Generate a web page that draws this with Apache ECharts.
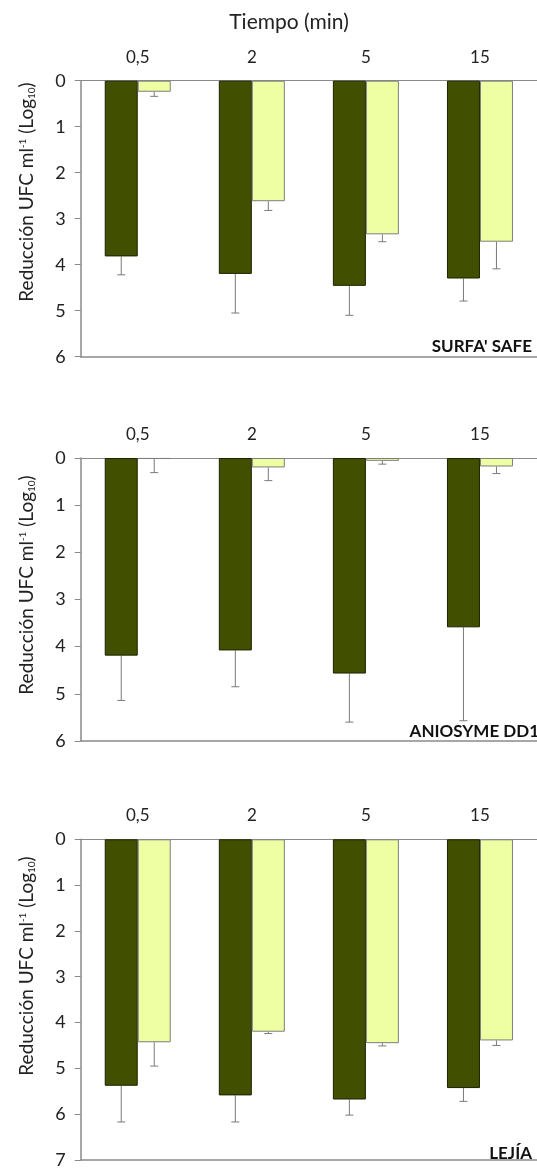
<!DOCTYPE html>
<html>
<head>
<meta charset="utf-8">
<script src="https://cdn.jsdelivr.net/npm/echarts@6/dist/echarts.min.js"></script>
<style>
  html, body { margin: 0; padding: 0; background: #fff; }
  #chart { width: 537px; height: 1169px; }
</style>
</head>
<body>
<div id="chart"></div>
<script>
// categorías de tiempo (min)
const categories = ['0,5', '2', '5', '15']

// SURFA' SAFE
const surfaDark = [3.82, 4.20, 4.46, 4.30]
const surfaDarkSd = [0.40, 0.85, 0.64, 0.49]
const surfaLight = [0.24, 2.62, 3.34, 3.50]
const surfaLightSd = [0.10, 0.20, 0.16, 0.59]

// ANIOSYME DD1
const anioDark = [4.19, 4.08, 4.57, 3.59]
const anioDarkSd = [0.95, 0.77, 1.03, 1.98]
const anioLight = [0.02, 0.20, 0.06, 0.18]
const anioLightSd = [0.29, 0.28, 0.07, 0.15]

// LEJÍA
const lejiaDark = [5.38, 5.59, 5.68, 5.43]
const lejiaDarkSd = [0.79, 0.58, 0.34, 0.29]
const lejiaLight = [4.43, 4.20, 4.45, 4.39]
const lejiaLightSd = [0.52, 0.04, 0.06, 0.11]

const panelNames = ["SURFA' SAFE", 'ANIOSYME DD1', 'LEJÍA']
const yMax = [6, 6, 7]

const FONT = 'Lato'
const AXIS_COLOR = '#8a8a8a'
const DARK = '#405000'
const LIGHT = '#eeffa3'
const BAR_W = 33

const panels = [
  { dark: surfaDark, darkSd: surfaDarkSd, light: surfaLight, lightSd: surfaLightSd, top: 80.7, height: 276 },
  { dark: anioDark, darkSd: anioDarkSd, light: anioLight, lightSd: anioLightSd, top: 458, height: 283 },
  { dark: lejiaDark, darkSd: lejiaDarkSd, light: lejiaLight, lightSd: lejiaLightSd, top: 839.3, height: 326 }
]

/**
 * barra de error solo hacia abajo (media -> media + sd)
 */
function errorRender(offset) {
  return function (params, api) {
    let a = api.coord([api.value(0), api.value(1)])
    let b = api.coord([api.value(0), api.value(2)])
    let x = a[0] + offset
    let st = { stroke: '#7a7a7a', lineWidth: 1 }
    return {
      type: 'group',
      children: [
        { type: 'line', shape: { x1: x, y1: a[1], x2: x, y2: b[1] }, style: st },
        { type: 'line', shape: { x1: x - 4, y1: b[1], x2: x + 4, y2: b[1] }, style: st }
      ]
    }
  }
}

function errData(vals, sd) {
  return vals.map((v, i) => [i, v, v + sd[i]])
}

let grid = [], xAxis = [], yAxis = [], series = [], graphic = []

panels.forEach((p, k) => {
  grid.push({ left: 80.7, top: p.top, width: 462, height: p.height })
  // eje superior con las categorías
  xAxis.push({
    type: 'category', gridIndex: k, position: 'top', data: categories,
    axisLine: { lineStyle: { color: AXIS_COLOR, width: 1 } },
    axisTick: { alignWithLabel: false, length: 9, lineStyle: { color: AXIS_COLOR } },
    axisLabel: { color: '#222', fontFamily: FONT, fontSize: 17, margin: 15 }
  })
  // línea inferior
  xAxis.push({
    type: 'category', gridIndex: k, position: 'bottom', data: categories,
    axisLine: { lineStyle: { color: AXIS_COLOR, width: 1.5 } },
    axisTick: { show: false }, axisLabel: { show: false }
  })
  yAxis.push({
    type: 'value', gridIndex: k, inverse: true, min: 0, max: yMax[k], interval: 1,
    axisLine: { show: true, lineStyle: { color: AXIS_COLOR, width: 1.5 } },
    axisTick: { show: true, length: 6, lineStyle: { color: AXIS_COLOR } },
    splitLine: { show: false },
    axisLabel: { color: '#222', fontFamily: FONT, fontSize: 18, margin: 15 }
  })
  series.push({
    type: 'bar', xAxisIndex: k * 2, yAxisIndex: k, data: p.dark,
    barWidth: BAR_W, barGap: '0%',
    itemStyle: { color: DARK, borderColor: '#1c2200', borderWidth: 1 }
  })
  series.push({
    type: 'bar', xAxisIndex: k * 2, yAxisIndex: k, data: p.light,
    barWidth: BAR_W, barGap: '0%',
    itemStyle: { color: LIGHT, borderColor: '#7d7d7d', borderWidth: 1 }
  })
  series.push({
    type: 'custom', xAxisIndex: k * 2, yAxisIndex: k, z: 1,
    renderItem: errorRender(-BAR_W / 2), data: errData(p.dark, p.darkSd)
  })
  series.push({
    type: 'custom', xAxisIndex: k * 2, yAxisIndex: k, z: 1,
    renderItem: errorRender(BAR_W / 2), data: errData(p.light, p.lightSd)
  })
})

// título del eje de tiempo
graphic.push({
  type: 'text', x: 289, y: 22,
  style: { text: 'Tiempo (min)', fontFamily: FONT, fontSize: 21, fill: '#222', align: 'center', verticalAlign: 'middle' }
})

// nombres de los ejes Y (rotados)
const yNameCenters = [192, 585, 966]
yNameCenters.forEach(c => {
  graphic.push({
    type: 'text', x: 27, y: c, rotation: Math.PI / 2,
    style: {
      text: 'Reducción UFC ml{sup|-1} (Log{sub|10})',
      fontFamily: FONT, fontSize: 19, fill: '#222', align: 'center', verticalAlign: 'middle',
      rich: {
        sup: { fontFamily: FONT, fontSize: 10, fill: '#222', verticalAlign: 'top', lineHeight: 10 },
        sub: { fontFamily: FONT, fontSize: 10, fill: '#222', verticalAlign: 'bottom', lineHeight: 10 }
      }
    }
  })
})

// etiquetas de cada panel
const labelPos = [[532, 346.5], [539, 731.5], [532, 1154]]
panelNames.forEach((n, k) => {
  graphic.push({
    type: 'text', x: labelPos[k][0], y: labelPos[k][1],
    style: { text: n, fontFamily: FONT, fontWeight: 'bold', fontSize: 17, fill: '#111', align: 'right', verticalAlign: 'middle' }
  })
})

const chart = echarts.init(document.getElementById('chart'))
chart.setOption({
  animation: false,
  backgroundColor: '#fff',
  grid: grid,
  xAxis: xAxis,
  yAxis: yAxis,
  series: series,
  graphic: graphic
})
</script>
</body>
</html>
